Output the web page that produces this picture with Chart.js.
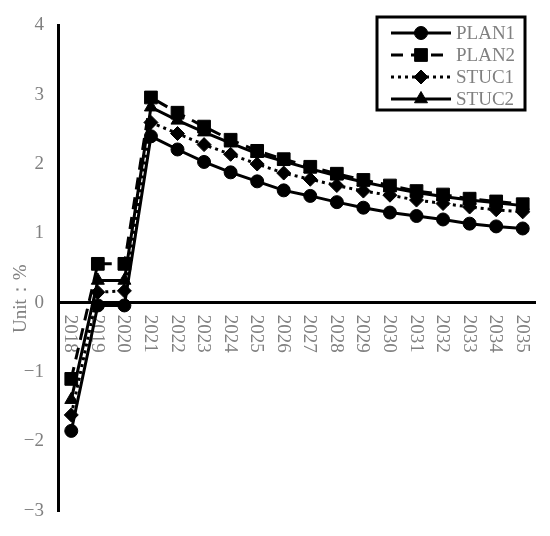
<!DOCTYPE html>
<html lang="en">
  <head>
    <meta charset="UTF-8" />
    <title>Unit %</title>
    <script src="https://cdn.jsdelivr.net/npm/chart.js@4.4.1/dist/chart.umd.min.js"></script>
    <style>
      body { margin: 0; background: #fff; }
      #wrap { width: 550px; height: 536px; position: relative; }
    </style>
  </head>
  <body>
    <div id="wrap"><canvas id="chart"></canvas></div>
    <script>
      const years = [
        "2018", "2019", "2020", "2021", "2022", "2023", "2024", "2025", "2026",
        "2027", "2028", "2029", "2030", "2031", "2032", "2033", "2034", "2035",
      ];
      const plan1 = [-1.85, -0.04, -0.04, 2.4, 2.21, 2.03, 1.88, 1.75, 1.62, 1.54, 1.45, 1.37, 1.3, 1.25, 1.2, 1.14, 1.1, 1.07];
      const plan2 = [-1.1, 0.56, 0.56, 2.96, 2.74, 2.54, 2.35, 2.19, 2.07, 1.96, 1.86, 1.77, 1.69, 1.61, 1.56, 1.5, 1.46, 1.42];
      const stuc1 = [-1.62, 0.15, 0.17, 2.6, 2.44, 2.28, 2.14, 2.0, 1.87, 1.78, 1.69, 1.61, 1.55, 1.48, 1.43, 1.38, 1.34, 1.31];
      const stuc2 = [-1.4, 0.32, 0.32, 2.82, 2.63, 2.46, 2.3, 2.15, 2.04, 1.93, 1.83, 1.74, 1.66, 1.59, 1.53, 1.48, 1.44, 1.4];
      const yTicks = [-3, -2, -1, 0, 1, 2, 3, 4];
      const yTitle = "Unit：%";

      const gray = "#808080";
      const serif = '"Liberation Serif", "Times New Roman", serif';

      function series(label, data, style, radius, dash) {
        return {
          label, data,
          borderColor: "#000", backgroundColor: "#000",
          borderWidth: 3, borderDash: dash, tension: 0,
          pointStyle: style, pointRadius: radius, pointHoverRadius: radius,
          pointBorderWidth: 1, pointBackgroundColor: "#000", pointBorderColor: "#000",
        };
      }

      // x labels turned clockwise, hanging under the zero line
      const xLabels = {
        id: "xLabels",
        beforeDatasetsDraw(chart) {
          const { ctx, scales } = chart;
          const y0 = scales.y.getPixelForValue(0) + 12;
          ctx.save();
          ctx.font = "19px " + serif;
          ctx.fillStyle = gray;
          ctx.textAlign = "left";
          ctx.textBaseline = "middle";
          years.forEach((yr, i) => {
            ctx.save();
            ctx.translate(scales.x.getPixelForValue(i), y0);
            ctx.rotate(Math.PI / 2);
            ctx.fillText(yr, 0, 1);
            ctx.restore();
          });
          // axis title beside the zero line
          ctx.translate(21, scales.y.getPixelForValue(0) - 4);
          ctx.rotate(-Math.PI / 2);
          ctx.textAlign = "center";
          ctx.fillText(yTitle, 0, 0);
          ctx.restore();
        },
      };

      const boxLegend = {
        id: "boxLegend",
        afterDraw(chart) {
          const { ctx } = chart;
          const left = 377, top = 17, w = 148, h = 93;
          ctx.save();
          ctx.fillStyle = "#fff";
          ctx.fillRect(left, top, w, h);
          ctx.lineWidth = 3;
          ctx.strokeStyle = "#000";
          ctx.strokeRect(left, top, w, h);
          chart.data.datasets.forEach((ds, i) => {
            const y = top + 16 + i * 22;
            ctx.lineWidth = 3;
            ctx.strokeStyle = "#000";
            ctx.fillStyle = "#000";
            ctx.setLineDash(ds.borderDash || []);
            ctx.beginPath();
            ctx.moveTo(391, y);
            ctx.lineTo(451, y);
            ctx.stroke();
            ctx.setLineDash([]);
            ctx.lineWidth = 1;
            Chart.helpers.drawPoint(ctx, { pointStyle: ds.pointStyle, radius: ds.pointRadius, rotation: 0, borderWidth: 1 }, 421, y);
            ctx.font = "19px " + serif;
            ctx.fillStyle = gray;
            ctx.textAlign = "left";
            ctx.textBaseline = "middle";
            ctx.fillText(ds.label, 456, y + 1);
          });
          ctx.restore();
        },
      };

      new Chart(document.getElementById("chart"), {
        type: "line",
        data: {
          labels: years,
          datasets: [
            series("PLAN1", plan1, "circle", 6.5, []),
            series("PLAN2", plan2, "rect", 9, [12, 8]),
            series("STUC1", stuc1, "rectRot", 7, [3, 4]),
            series("STUC2", stuc2, "triangle", 7.5, []),
          ],
        },
        options: {
          responsive: true,
          maintainAspectRatio: false,
          animation: false,
          layout: { padding: { left: 0, top: 18, right: 14, bottom: 19 } },
          plugins: { legend: { display: false }, tooltip: { enabled: false } },
          scales: {
            x: { type: "category", display: false, offset: true },
            y: {
              min: yTicks[0],
              max: yTicks[yTicks.length - 1],
              afterFit(scale) { scale.width = 58; },
              afterBuildTicks(scale) { scale.ticks = yTicks.map((v) => ({ value: v })); },
              ticks: {
                padding: 14,
                color: gray,
                font: { family: serif, size: 19 },
                callback: (v) => (v < 0 ? "\u2212" + Math.abs(v) : String(v)),
              },
              border: { display: true, color: "#000", width: 3 },
              grid: {
                drawTicks: false,
                lineWidth: 3,
                color: (c) => (c.tick && c.tick.value === 0 ? "#000" : "rgba(0,0,0,0)"),
              },
            },
          },
        },
        plugins: [xLabels, boxLegend],
      });
    </script>
  </body>
</html>
